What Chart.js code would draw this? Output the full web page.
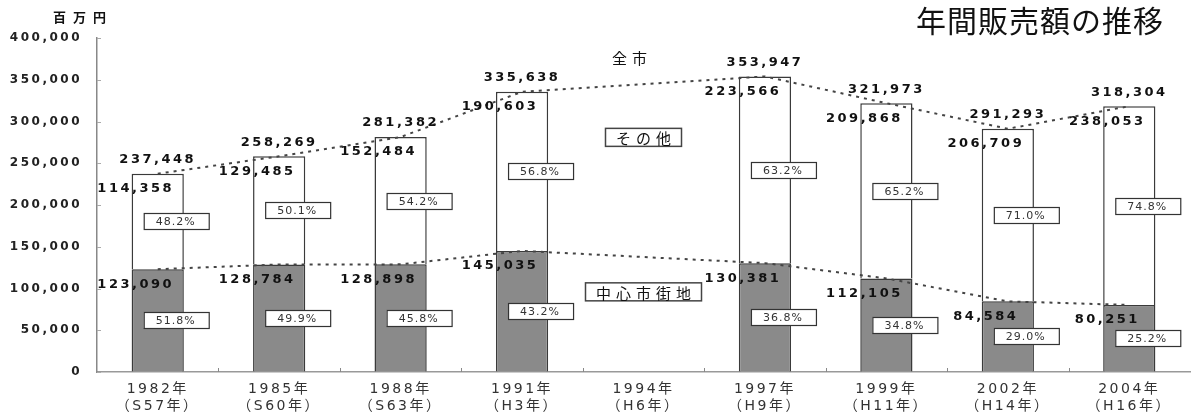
<!DOCTYPE html>
<html lang="ja">
<head>
<meta charset="UTF-8">
<title>年間販売額の推移</title>
<script src="https://cdn.jsdelivr.net/npm/chart.js"></script>
<style>
  body { margin: 0; background: #fff; }
</style>
</head>
<body>
<canvas id="salesChart" width="1192" height="416"></canvas>
<script>
// 年 (和暦)
const years = [
    ['1982年', '（S57年）'], ['1985年', '（S60年）'], ['1988年', '（S63年）'],
    ['1991年', '（H3年）'], ['1994年', '（H6年）'], ['1997年', '（H9年）'],
    ['1999年', '（H11年）'], ['2002年', '（H14年）'], ['2004年', '（H16年）']
];
// 百万円
const central = [123090, 128784, 128898, 145035, null, 130381, 112105, 84584, 80251];
const other   = [114358, 129485, 152484, 190603, null, 223566, 209868, 206709, 238053];
const total   = [237448, 258269, 281382, 335638, null, 353947, 321973, 291293, 318304];
const centralPct = ['51.8%', '49.9%', '45.8%', '43.2%', null, '36.8%', '34.8%', '29.0%', '25.2%'];
const otherPct   = ['48.2%', '50.1%', '54.2%', '56.8%', null, '63.2%', '65.2%', '71.0%', '74.8%'];
const yTicks = [0, 50000, 100000, 150000, 200000, 250000, 300000, 350000, 400000];
// 凡例の代わりの注記 (1994年の位置に置く)
const noteTexts  = ['全市', 'その他', '中心市街地'];
const noteValues = [377000, 281000, 96000];
const noteBoxed  = [false, true, true];

const fmt = v => v.toLocaleString('en-US');

const labelPlugin = {
    id: 'labels',
    beforeDraw(chart) {
        chart.ctx.letterSpacing = '2.5px';
    },
    afterDatasetsDraw(chart) {
        const ctx = chart.ctx;
        const xs = chart.scales.x, ys = chart.scales.y;
        const area = chart.chartArea;
        ctx.save();

        // 内向きの目盛り
        ctx.strokeStyle = '#aaa';
        ctx.lineWidth = 1;
        yTicks.forEach(v => {
            const y = Math.round(ys.getPixelForValue(v)) + 0.5;
            ctx.beginPath(); ctx.moveTo(area.left, y); ctx.lineTo(area.left + 4, y); ctx.stroke();
        });
        ctx.strokeStyle = '#888';
        for (let i = 1; i < years.length; i++) {
            const x = Math.round((xs.getPixelForValue(i - 1) + xs.getPixelForValue(i)) / 2) + 0.5;
            ctx.beginPath(); ctx.moveTo(x, area.bottom); ctx.lineTo(x, area.bottom - 4); ctx.stroke();
        }

        const cMeta = chart.getDatasetMeta(0);
        const oMeta = chart.getDatasetMeta(1);
        years.forEach((yr, i) => {
            if (central[i] == null) return;
            const cb = cMeta.data[i], ob = oMeta.data[i];
            const x = cb.x;

            ctx.fillStyle = '#111';
            ctx.font = 'bold 13px "DejaVu Sans"';
            ctx.letterSpacing = '2.5px';
            ctx.textBaseline = 'middle';
            ctx.textAlign = 'center';
            ctx.fillText(fmt(total[i]), x, ob.y - 14);
            ctx.fillText(fmt(other[i]), x - 22, ob.y + 15);
            ctx.fillText(fmt(central[i]), x - 22, cb.y + 15);

            // 構成比
            ctx.font = '11px "DejaVu Sans"';
            ctx.letterSpacing = '1px';
            [[otherPct[i], (ob.y + ob.base) / 2], [centralPct[i], (cb.y + cb.base) / 2]].forEach(([t, cy]) => {
                const bx = x + 18 - 32, by = Math.round(cy) - 8;
                ctx.fillStyle = '#fff';
                ctx.fillRect(bx, by, 65, 16);
                ctx.strokeStyle = '#333';
                ctx.lineWidth = 1.2;
                ctx.strokeRect(bx + 0.5, by + 0.5, 65, 16);
                ctx.fillStyle = '#333';
                ctx.fillText(t, x + 18, by + 9);
            });
        });

        // 注記
        ctx.font = '15px "Noto Sans CJK JP"';
        ctx.letterSpacing = '5px';
        noteTexts.forEach((t, k) => {
            const x = xs.getPixelForValue(4) - (noteBoxed[k] ? 0 : 14);
            const y = ys.getPixelForValue(noteValues[k]);
            const w = ctx.measureText(t).width + 16;
            if (noteBoxed[k]) {
                ctx.fillStyle = '#fff';
                ctx.fillRect(x - w / 2, y - 9, w, 18);
                ctx.strokeStyle = '#444';
                ctx.lineWidth = 1.5;
                ctx.strokeRect(x - w / 2, y - 9, w, 18);
            }
            ctx.fillStyle = '#111';
            ctx.fillText(t, x + 2.5, y + 1);
        });
        ctx.restore();
    },
    afterDraw(chart) {
        const ctx = chart.ctx;
        ctx.save();
        ctx.fillStyle = '#111';
        ctx.textBaseline = 'middle';
        ctx.textAlign = 'right';
        ctx.font = '30px "Noto Sans CJK JP"';
        ctx.letterSpacing = '1px';
        ctx.fillText('年間販売額の推移', 1164, 21);
        ctx.textAlign = 'left';
        ctx.font = 'bold 13px "Noto Sans CJK JP"';
        ctx.letterSpacing = '7px';
        ctx.fillText('百万円', 53, 17);
        ctx.restore();
    }
};

new Chart(document.getElementById('salesChart'), {
    data: {
        labels: years,
        datasets: [
            {
                type: 'bar', label: '中心市街地', data: central, order: 1,
                backgroundColor: '#8a8a8a', borderColor: '#3a3a3a', borderWidth: 1.5,
                barPercentage: 0.43, categoryPercentage: 1
            },
            {
                type: 'bar', label: 'その他', data: other, order: 1,
                backgroundColor: '#ffffff', borderColor: '#3a3a3a', borderWidth: 1.5,
                barPercentage: 0.43, categoryPercentage: 1
            },
            {
                type: 'line', label: '全市', data: total, order: 0, stack: 'totalLine',
                borderColor: '#444', borderWidth: 2, borderDash: [3, 5],
                pointRadius: 0, spanGaps: true, tension: 0
            },
            {
                type: 'line', label: '中心市街地線', data: central, order: 0, stack: 'centralLine',
                borderColor: '#444', borderWidth: 2, borderDash: [3, 5],
                pointRadius: 0, spanGaps: true, tension: 0
            }
        ]
    },
    options: {
        responsive: false,
        devicePixelRatio: 1,
        animation: false,
        layout: { padding: { top: 38, right: 2, left: 0, bottom: 0 } },
        plugins: { legend: { display: false }, tooltip: { enabled: false }, title: { display: false } },
        scales: {
            x: {
                stacked: true,
                grid: { offset: true, drawOnChartArea: false, drawTicks: false },
                border: { display: true, color: '#999', width: 1.5 },
                ticks: {
                    maxRotation: 0, autoSkip: false, padding: 9, color: '#333',
                    font: { family: '"DejaVu Sans", "Noto Sans CJK JP"', size: 14, lineHeight: 1.2 }
                },
                afterFit: s => { s.height = 44; }
            },
            y: {
                stacked: true,
                min: 0, max: 400000,
                grid: { drawOnChartArea: false, drawTicks: false },
                border: { display: true, color: '#888', width: 1.5 },
                ticks: {
                    stepSize: 50000, padding: 15, color: '#222',
                    font: { family: '"DejaVu Sans"', size: 12, weight: 'bold' },
                    callback: v => fmt(v)
                },
                afterFit: s => { s.width = 97; }
            }
        }
    },
    plugins: [labelPlugin]
});
</script>
</body>
</html>
